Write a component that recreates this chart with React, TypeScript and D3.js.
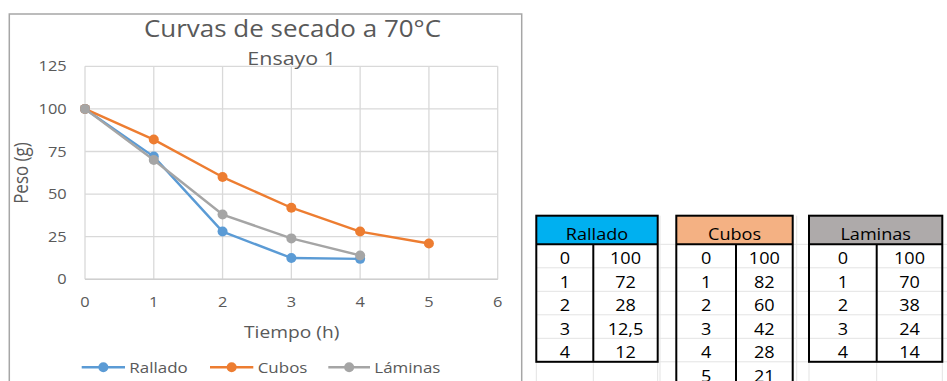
import React from "react";
import * as d3 from "d3";

// Drying-curve data (weight in g vs time in h)
const tiempoRallado = [0, 1, 2, 3, 4];
const pesoRallado = [100, 72, 28, 12.5, 12];
const tiempoCubos = [0, 1, 2, 3, 4, 5];
const pesoCubos = [100, 82, 60, 42, 28, 21];
const tiempoLaminas = [0, 1, 2, 3, 4];
const pesoLaminas = [100, 70, 38, 24, 14];

const xTicks = [0, 1, 2, 3, 4, 5, 6];
const yTicks = [0, 25, 50, 75, 100, 125];

const seriesNames = ["Rallado", "Cubos", "Láminas"];
const tableTitles = ["Rallado", "Cubos", "Laminas"];
const seriesColors = ["#5b9bd5", "#ed7d31", "#a5a5a5"];
const headerFills = ["#00b0f0", "#f4b183", "#aeaaaa"];

const W = 947;
const H = 381;
const SX = 1.13;
const CHART_FONT = "'Open Sans', 'Noto Sans', sans-serif";
const TABLE_FONT = "'Open Sans', 'DejaVu Sans', sans-serif";
const TEXT_GRAY = "#595959";

type TxtProps = {
  x: number;
  y: number;
  size: number;
  anchor?: "start" | "middle" | "end";
  fill?: string;
  family?: string;
  rotate?: number;
  children: React.ReactNode;
};

// Text drawn slightly wider than the font's natural width
function Txt({ x, y, size, anchor = "start", fill = TEXT_GRAY, family = CHART_FONT, rotate = 0, children }: TxtProps) {
  const t = rotate
    ? `translate(${x},${y}) rotate(${rotate}) scale(1,${SX})`
    : `translate(${x},${y}) scale(${SX},1)`;
  return (
    <text transform={t} fontSize={size} textAnchor={anchor} fill={fill} fontFamily={family}>
      {children}
    </text>
  );
}

const fmt = (v: number) => String(v).replace(".", ",");

export default function App() {
  const x = d3.scaleLinear().domain([0, 6]).range([85, 497.7]);
  const y = d3.scaleLinear().domain([0, 125]).range([279.3, 66.3]);

  const series = [
    { t: tiempoRallado, p: pesoRallado },
    { t: tiempoCubos, p: pesoCubos },
    { t: tiempoLaminas, p: pesoLaminas },
  ];

  const line = d3
    .line<[number, number]>()
    .x((d) => x(d[0]))
    .y((d) => y(d[1]));

  // Legend layout
  const legendY = 367.3;
  const legendItems = [
    { x0: 81.7, x1: 125, tx: 129.3 },
    { x0: 210, x1: 253.3, tx: 257.7 },
    { x0: 328.3, x1: 370, tx: 374.3 },
  ];

  // Spreadsheet tables
  const tables = [
    { x0: 536.3, xd: 593.3, x1: 657.7 },
    { x0: 676.3, xd: 736, x1: 792.7 },
    { x0: 809, xd: 876.7, x1: 942.3 },
  ];
  const headTop = 215.7;
  const headBot = 244.3;
  const rowH = 23.5;
  const rowCount = 7;
  const sheetCols = [536.3, 593.3, 657.7, 660, 676.3, 736, 792.7, 796.7, 809, 876.7, 942.3];

  return (
    <svg
      width={W}
      height={H}
      viewBox={`0 0 ${W} ${H}`}
      style={{ position: "absolute", left: 0, top: 0, background: "#fff" }}
    >
      <rect x={0} y={0} width={W} height={H} fill="#fff" />

      {/* sheet gridlines */}
      <g stroke="#e3e3e3" strokeWidth={1}>
        {d3.range(rowCount).map((i) => (
          <line key={"r" + i} x1={536} x2={W} y1={headBot + rowH * i} y2={headBot + rowH * i} />
        ))}
        {sheetCols.map((c, i) => (
          <line key={"c" + i} x1={c} x2={c} y1={headTop} y2={H} />
        ))}
      </g>

      {/* chart frame */}
      <rect x={9.3} y={14} width={512.4} height={H} fill="#fff" stroke="#a6a6a6" strokeWidth={1.5} />

      {/* gridlines */}
      <g stroke="#d9d9d9" strokeWidth={1.3}>
        {yTicks.map((v) => (
          <line key={"y" + v} x1={x(0)} x2={x(6)} y1={y(v)} y2={y(v)} />
        ))}
        {xTicks.map((v) => (
          <line key={"x" + v} x1={x(v)} x2={x(v)} y1={y(125)} y2={y(0)} />
        ))}
      </g>
      <line x1={x(0)} x2={x(6)} y1={y(0)} y2={y(0)} stroke="#cfcfcf" strokeWidth={1.4} />

      {/* tick labels */}
      {yTicks.map((v) => (
        <Txt key={"yl" + v} x={66.7} y={y(v) + 5} size={14.5} anchor="end">
          {v}
        </Txt>
      ))}
      {xTicks.map((v) => (
        <Txt key={"xl" + v} x={x(v)} y={307} size={14.5} anchor="middle">
          {v}
        </Txt>
      ))}

      {/* titles */}
      <Txt x={292.5} y={37} size={23} anchor="middle">
        Curvas de secado a 70°C
      </Txt>
      <Txt x={291.7} y={65.3} size={19} anchor="middle">
        Ensayo 1
      </Txt>
      <Txt x={291.7} y={337.5} size={17} anchor="middle">
        Tiempo (h)
      </Txt>
      <Txt x={27.5} y={173} size={17} anchor="middle" rotate={-90}>
        Peso (g)
      </Txt>

      {/* series */}
      {series.map((s, i) => {
        const pts: [number, number][] = s.t.map((t, j) => [t, s.p[j]]);
        return (
          <g key={"s" + i}>
            <path
              d={line(pts) ?? ""}
              fill="none"
              stroke={seriesColors[i]}
              strokeWidth={2.4}
              strokeLinejoin="round"
              strokeLinecap="round"
            />
            {pts.map((p, j) => (
              <circle key={j} cx={x(p[0])} cy={y(p[1])} r={5} fill={seriesColors[i]} />
            ))}
          </g>
        );
      })}

      {/* legend */}
      {legendItems.map((it, i) => (
        <g key={"lg" + i}>
          <line x1={it.x0} x2={it.x1} y1={legendY} y2={legendY} stroke={seriesColors[i]} strokeWidth={2.4} />
          <circle cx={(it.x0 + it.x1) / 2} cy={legendY} r={5} fill={seriesColors[i]} />
          <Txt x={it.tx} y={372.5} size={15}>
            {seriesNames[i]}
          </Txt>
        </g>
      ))}

      {/* data tables */}
      {tables.map((tb, i) => {
        const s = series[i];
        const bottom = headBot + rowH * s.t.length;
        return (
          <g key={"tb" + i}>
            <rect x={tb.x0} y={headTop} width={tb.x1 - tb.x0} height={headBot - headTop} fill={headerFills[i]} />
            <Txt x={(tb.x0 + tb.x1) / 2} y={239.5} size={16} anchor="middle" fill="#000" family={TABLE_FONT}>
              {tableTitles[i]}
            </Txt>
            {s.t.map((t, j) => (
              <g key={j}>
                <Txt
                  x={(tb.x0 + tb.xd) / 2}
                  y={headBot + rowH * j + 20}
                  size={16}
                  anchor="middle"
                  fill="#000"
                  family={TABLE_FONT}
                >
                  {t}
                </Txt>
                <Txt
                  x={(tb.xd + tb.x1) / 2}
                  y={headBot + rowH * j + 20}
                  size={16}
                  anchor="middle"
                  fill="#000"
                  family={TABLE_FONT}
                >
                  {fmt(s.p[j])}
                </Txt>
              </g>
            ))}
            <g stroke="#000" strokeWidth={2} fill="none">
              <rect x={tb.x0} y={headTop} width={tb.x1 - tb.x0} height={bottom - headTop} />
              <line x1={tb.x0} x2={tb.x1} y1={headBot} y2={headBot} />
              <line x1={tb.xd} x2={tb.xd} y1={headBot} y2={bottom} />
            </g>
          </g>
        );
      })}
    </svg>
  );
}
